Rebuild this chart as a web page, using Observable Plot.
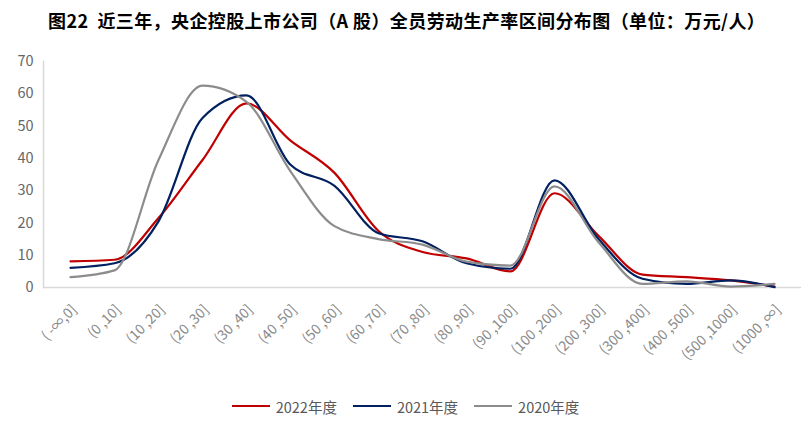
<!DOCTYPE html>
<html>
<head>
<meta charset="utf-8">
<script src="https://cdn.jsdelivr.net/npm/d3@7"></script>
<script src="https://cdn.jsdelivr.net/npm/@observablehq/plot@0.6"></script>
<style>
  html, body { margin: 0; padding: 0; background: #fff; }
  body { width: 811px; height: 421px; overflow: hidden; font-family: "Noto Sans CJK SC", "Noto Sans", sans-serif; }
  #title { height: 40px; line-height: 40px; padding-left: 48px; font-size: 18px; letter-spacing: 0.4px; font-weight: bold; color: #000; white-space: nowrap; }
  #legend { height: 36px; display: flex; justify-content: center; align-items: center; padding-top: 6px; box-sizing: border-box; font-size: 14.5px; color: #595959; gap: 0; }
  .item { display: flex; align-items: center; margin: 0 8px; }
  .sw { width: 38px; height: 2px; margin-right: 6px; }
</style>
</head>
<body>
<div id="title">图22&nbsp;&nbsp;近三年，央企控股上市公司（A 股）全员劳动生产率区间分布图（单位：万元/人）</div>
<div id="chart"></div>
<div id="legend"></div>
<script>
const categories = ["( -∞,0]","(0 ,10]","(10 ,20]","(20 ,30]","(30 ,40]","(40 ,50]","(50 ,60]","(60 ,70]","(70 ,80]","(80 ,90]","(90 ,100]","(100 ,200]","(200 ,300]","(300 ,400]","(400 ,500]","(500 ,1000]","(1000 ,∞]"];
const v2022 = [8.1, 8.6, 21.5, 39.5, 57, 45.5, 35.5, 17.5, 11, 9, 5, 29.2, 16, 4, 3.2, 2.2, 0.3];
const v2021 = [6.1, 7.5, 20.5, 52.5, 59.5, 38, 31.5, 16.8, 14.3, 7.5, 5.8, 33.2, 15, 2.7, 1.1, 2.2, 0.1];
const v2020 = [3.2, 5.3, 39.5, 62.5, 57.5, 36, 19, 15, 13.3, 8, 6.8, 31.3, 14, 1.1, 1.9, 0.3, 1.1];
const seriesNames = ["2022年度", "2021年度", "2020年度"];
const seriesColors = ["#C00000", "#002060", "#8C8C8C"];
const yTicks = [0, 10, 20, 30, 40, 50, 60, 70];

const seriesValues = [v2022, v2021, v2020];
const rows = (vals) => categories.map((c, i) => ({cat: c, value: vals[i]}));

const plot = Plot.plot({
  width: 811,
  height: 345,
  marginTop: 21,
  marginLeft: 43,
  marginRight: 10,
  marginBottom: 98,
  style: {fontFamily: '"Noto Sans CJK SC", "Noto Sans", sans-serif', fontSize: "14px", background: "#fff"},
  x: {type: "point", domain: categories, padding: 0.5},
  y: {domain: [0, 70]},
  marks: [
    Plot.ruleY([0], {stroke: "#d9d9d9", strokeWidth: 1.5}),
    Plot.frame({anchor: "left", stroke: "#d9d9d9", strokeWidth: 1.5}),
    Plot.axisY({ticks: yTicks, tickSize: 0, tickPadding: 10, label: null, fill: "#666", fontSize: 14.5}),
    Plot.axisX({tickSize: 0, tickRotate: -45, tickPadding: 20, dx: 4, label: null, fill: "#8a8a8a", fontSize: 14}),
    ...seriesValues.map((vals, k) => Plot.line(rows(vals), {
      x: "cat", y: "value", stroke: seriesColors[k], strokeWidth: 2.2, curve: "monotone-x"
    }))
  ]
});
document.getElementById("chart").appendChild(plot);

const legend = document.getElementById("legend");
seriesNames.forEach((n, k) => {
  const it = document.createElement("div");
  it.className = "item";
  const sw = document.createElement("div");
  sw.className = "sw";
  sw.style.background = seriesColors[k];
  const t = document.createElement("span");
  t.textContent = n;
  it.appendChild(sw); it.appendChild(t);
  legend.appendChild(it);
});
</script>
</body>
</html>
